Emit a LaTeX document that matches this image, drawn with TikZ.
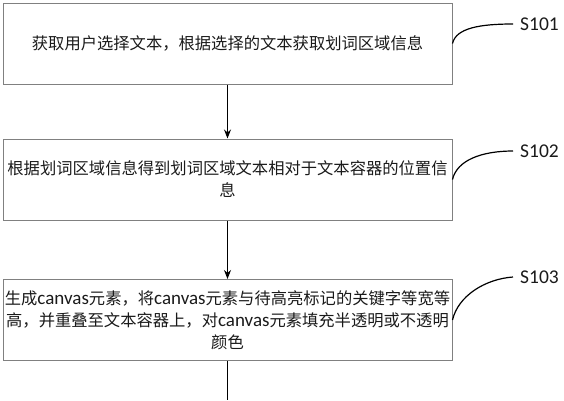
\documentclass[tikz,border=0pt]{standalone}
\usepackage{fontspec}
\setmainfont{Carlito}
\newfontfamily\cjk{Noto Sans CJK SC}
\newfontfamily\lat{Carlito}
\usetikzlibrary{arrows.meta}
\definecolor{boxgray}{HTML}{808080}
\definecolor{textc}{HTML}{1A1A1A}
\newcommand{\cv}{{\lat\fontsize{19}{22}\selectfont canvas}}
\begin{document}
\begin{tikzpicture}[x=1pt,y=-1pt,
  box/.style={draw=boxgray, line width=1pt, minimum width=449pt, minimum height=81pt,
    inner sep=0pt, align=center, text=textc, font=\cjk\fontsize{16.3}{22}\selectfont},
  flow/.style={draw=black, line width=1pt, -{Stealth[length=9pt,width=7pt]}},
  plain/.style={draw=black, line width=1pt},
  lead/.style={draw=black, line width=1.2pt},
  lbl/.style={font=\lat\fontsize{19.5}{22}\selectfont, anchor=west, inner sep=0pt, inner xsep=7pt, text=textc}]
\useasboundingbox (0,0) rectangle (564,400);
\node[box] (b1) at (227.5,43.5) {获取用户选择文本，根据选择的文本获取划词区域信息};
\node[box] (b2) at (227.5,179.5) {根据划词区域信息得到划词区域文本相对于文本容器的位置信\\息};
\node[box] (b3) at (227.5,320) {生成\cv 元素，将\cv 元素与待高亮标记的关键字等宽等\\高，并重叠至文本容器上，对\cv 元素填充半透明或不透明\\颜色};
\coordinate (tail) at (227.5,400);
\draw[flow] (b1.south) -- (b2.north);
\draw[flow] (b2.south) -- (b3.north);
\draw[plain] (b3.south) -- (tail);
\node[lbl] (s1) at (513,24) {S101};
\node[lbl] (s2) at (513,151) {S102};
\node[lbl] (s3) at (513,277) {S103};
\draw[lead] (b1.east) .. controls (456,28) and (480,24) .. (s1.west);
\draw[lead] (b2.east) .. controls (457,160) and (482,151) .. (s2.west);
\draw[lead] (b3.east) .. controls (458,296) and (485,279) .. (s3.west);
\end{tikzpicture}
\end{document}
